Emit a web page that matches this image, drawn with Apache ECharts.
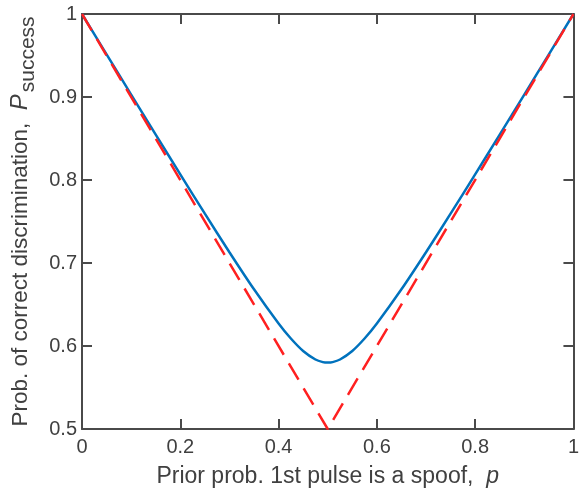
<!DOCTYPE html>
<html>
<head>
<meta charset="utf-8">
<script src="https://cdn.jsdelivr.net/npm/echarts@6/dist/echarts.min.js"></script>
<style>
  html, body { margin: 0; padding: 0; background: #fff; }
  #chart { width: 582px; height: 493px; }
</style>
</head>
<body>
<div id="chart"></div>
<script>
// prior probability p (x) and success probability
const priorP = [0, 0.05, 0.1, 0.15, 0.2, 0.25, 0.3, 0.35, 0.4, 0.425, 0.45, 0.475, 0.49, 0.5,
  0.51, 0.525, 0.55, 0.575, 0.6, 0.65, 0.7, 0.75, 0.8, 0.85, 0.9, 0.95, 1];
const successP = [1, 0.9514, 0.9029, 0.8546, 0.8068, 0.7594, 0.713, 0.6683, 0.6271, 0.609, 0.594, 0.5837, 0.5806, 0.58,
  0.5806, 0.5837, 0.594, 0.609, 0.6271, 0.6683, 0.713, 0.7594, 0.8068, 0.8546, 0.9029, 0.9514, 1];
// red dashed guessing bound
const guessP = [0, 0.5, 1];
const guessVal = [1, 0.5, 1];

const xTicks = ['0', '0.2', '0.4', '0.6', '0.8', '1'];
const yTicks = ['0.5', '0.6', '0.7', '0.8', '0.9', '1'];

const font = 'Liberation Sans, Arial, Helvetica, sans-serif';
const axisColor = '#4a4a4a';
const textColor = '#404040';

function frameAxis (extra) {
  return Object.assign({
    type: 'value',
    axisLine: { show: true, onZero: false, lineStyle: { color: axisColor, width: 2 } },
    axisTick: { show: true, inside: true, length: 10, lineStyle: { color: axisColor, width: 2 } },
    splitLine: { show: false }
  }, extra);
}

const chart = echarts.init(document.getElementById('chart'));
chart.setOption({
  animation: false,
  backgroundColor: '#fff',
  grid: { left: 82, right: 8, top: 14, bottom: 63, containLabel: false },
  xAxis: [
    frameAxis({
      min: 0, max: 1, interval: 0.2,
      axisLabel: {
        color: textColor, fontSize: 20, fontFamily: font, margin: 8,
        formatter: v => xTicks[Math.round(v / 0.2)]
      },
      name: 'Prior prob. 1st pulse is a spoof,  {i|p}',
      nameLocation: 'middle',
      nameGap: 36,
      nameTextStyle: {
        color: textColor, fontSize: 23, fontFamily: font,
        rich: { i: { fontStyle: 'italic', fontSize: 23, color: textColor, fontFamily: font } }
      }
    }),
    frameAxis({ position: 'top', min: 0, max: 1, interval: 0.2, axisLabel: { show: false } })
  ],
  yAxis: [
    frameAxis({
      min: 0.5, max: 1, interval: 0.1,
      axisLabel: {
        color: textColor, fontSize: 20, fontFamily: font, margin: 5,
        formatter: v => yTicks[Math.round((v - 0.5) / 0.1)]
      },
      name: 'Prob. of correct discrimination,  {i|P}{s|success}',
      nameLocation: 'middle',
      nameGap: 39,
      nameTextStyle: {
        color: textColor, fontSize: 22.5, fontFamily: font,
        rich: {
          i: { fontStyle: 'italic', fontSize: 24, color: textColor, fontFamily: font },
          s: { fontSize: 21, color: textColor, fontFamily: font, padding: [14, 0, 0, 2] }
        }
      }
    }),
    frameAxis({ position: 'right', min: 0.5, max: 1, interval: 0.1, axisLabel: { show: false } })
  ],
  series: [
    {
      type: 'line',
      data: priorP.map((p, i) => [p, successP[i]]),
      smooth: 0.3,
      showSymbol: false,
      lineStyle: { color: '#0072bd', width: 2.5 },
      z: 2
    },
    {
      type: 'line',
      data: guessP.map((p, i) => [p, guessVal[i]]),
      showSymbol: false,
      lineStyle: { color: '#ff2020', width: 2.5, type: [19, 10] },
      z: 3
    }
  ]
});
</script>
</body>
</html>
